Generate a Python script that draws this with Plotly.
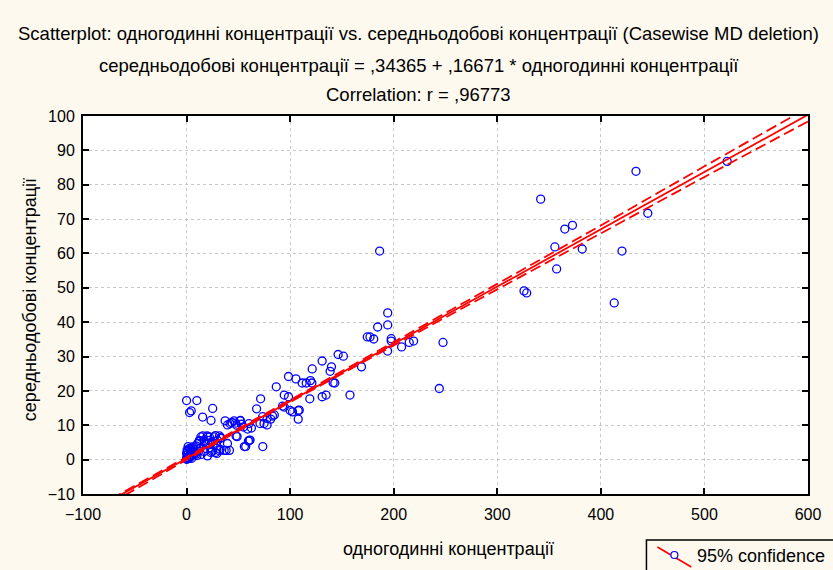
import numpy as np
import plotly.graph_objects as go

# ---- data ----
x_hour = [
    522, 433.9, 341.9, 372.6, 365.2, 445.3, 355.6, 382, 420.4, 357.3, 325.8, 328.4, 412.9,
    186.4, 194.2, 194.2, 184.5, 174.5, 177.1, 180.7, 197.6, 197.6, 194.1, 207.6, 215, 219.2,
    247.6, 244, 168.9, 157.8,
    146.3, 151.4, 130.9, 139.9, 138.6, 121.3, 98.4, 105.6, 111.6, 115.5, 119.6, 121, 141.5,
    143.1, 86.6, 119, 130.9, 134.7, 94.3, 98.4, 71.5, 67.6, 92.7, 94.3, 100, 107.8, 107.8,
    83, 84.7, 73.4, 77.7, 81.2, 74.8, 77.7, 52, 43.6, 47.2, 48.4, 54.9, 59, 62.6, 61.3, 47.8,
    102.3, 108.8, 73.6, 55.8, 60.6, 38.2, 41.4,
    0, 9.9, 2.9, 4.5, 15.5, 25.2, 23.6, 37.2, 39.5, 42, 45.9, 51.7, 52.9, 60.3, 70.9,
    59.7, 57.1, 39.5, 36.3, 48.8, 31.8, 33, 27.9, 19.9, 22.1, 15.7, 12.5, 17, 20.5, 24.4,
    24.7, 27.9, 31.8, 2.9, 6.1,
    13.8, 20.2, 21.8, 17, 12.2, 26.6, 29.8, 33, 26, 29.2, 22.5, 23.4, 17, 13.2, 9, 10.6,
    5.8, 1, 0, 0, 2.6, 7.4, 4.1, 18.6, 20.2, 29.2, 32.4,
    0, 1, 0.5, 2, 3, 1.5, 4, 6, 8, 10, 12, 14, 0.3, 1.8, 5, 3.5, 7, 9,
]
y_day = [
    86.8, 83.9, 75.8, 68.2, 67.1, 71.7, 61.9, 61.3, 60.7, 55.5, 49.1, 48.5, 45.6,
    60.7, 42.7, 39.2, 38.6, 35.7, 35.7, 35.1, 35.2, 34.5, 31.6, 32.8, 34.1, 34.5,
    34.1, 20.7, 27, 18.8,
    30.6, 30.1, 28.7, 27, 25.7, 26.4, 24.2, 23.5, 22.3, 22.3, 23, 22.3, 22.4,
    22.3, 21.2, 17.7, 18.3, 18.8, 18.8, 18.3, 17.7, 14.8, 15.6, 15.3, 14.3, 14.3, 11.8,
    12.7, 13, 12.5, 12, 11.8, 10.5, 10.1, 11.4, 10.8, 10.6, 10, 9.5, 8.9, 9.2, 5.7, 6.9,
    13.9, 14.4, 3.8, 3.8, 5.6, 2.7, 2.7,
    17.2, 17.2, 13.7, 14.2, 12.4, 14.9, 11.4, 11.3, 10.1, 10.5, 11.3, 11.3, 10.3, 10.5, 10.5,
    5.4, 3.8, 4.7, 2.7, 6.7, 6.9, 6.4, 7, 6.9, 6.6, 6.9, 5.6, 5.1, 4.7, 5.1,
    2.4, 2.1, 2.6, 3.3, 2.5,
    6.6, 6.6, 5.6, 5.6, 5.4, 6.6, 5.6, 6.2, 4.7, 4, 3.5, 2.1, 2.4, 3.3, 4, 4.7,
    3.7, 2.5, 1.8, 0.1, 1.1, 1.8, 3, 4.5, 1.1, 1.8, 3,
    0.5, 1.5, 2.8, 0.3, 1, 3.8, 0.8, 1.5, 2, 1.2, 2.5, 1.5, 0.2, 0.6, 0.4, 2.2, 3.1, 1.6,
]
INTERCEPT = 0.34365
SLOPE = 0.16671
# 95% confidence band, upper / lower values
band_x = [-100, -50, 0, 50, 100, 200, 300, 400, 500, 600]
band_upper = [-16.0, -7.6, 0.75, 9.05, 17.35, 34.2, 51.15, 68.15, 85.35, 102.4]
band_lower = [-17.4, -8.7, -0.05, 8.35, 16.75, 33.2, 49.55, 65.85, 82.25, 98.4]
x_ticks = [-100, 0, 100, 200, 300, 400, 500, 600]
y_ticks = [-10, 0, 10, 20, 30, 40, 50, 60, 70, 80, 90, 100]

title_lines = [
    "Scatterplot: одногодинні концентрації vs. середньодобові концентрації (Casewise MD deletion)",
    "середньодобові концентрації = ,34365 + ,16671 * одногодинні концентрації",
    "Correlation: r = ,96773",
]
x_title = "одногодинні концентрації"
y_title = "середньодобові концентрації"
legend_text = "95% confidence"

fit_x = [-100, 600]
fit_y = [INTERCEPT + SLOPE * v for v in fit_x]

NARROW = "Liberation Sans Narrow, Arial Narrow, Liberation Sans, Arial"
REG = "Liberation Sans, Arial"
RED = "#ff0000"

fig = go.Figure()
fig.add_trace(go.Scatter(x=x_hour, y=y_day, mode="markers",
                         marker=dict(symbol="circle-open", size=8, color="#0000ff",
                                     line=dict(width=1.3, color="#0000ff")),
                         showlegend=False))
fig.add_trace(go.Scatter(x=band_x, y=band_upper, mode="lines", line_shape="spline",
                         line=dict(color=RED, width=1.8, dash="11px,5px"), showlegend=False))
fig.add_trace(go.Scatter(x=band_x, y=band_lower, mode="lines", line_shape="spline",
                         line=dict(color=RED, width=1.8, dash="11px,5px"), showlegend=False))
fig.add_trace(go.Scatter(x=fit_x, y=fit_y, mode="lines",
                         line=dict(color=RED, width=1.8), showlegend=False))

W, H = 833, 570
L, R, T, B = 83, 810, 116, 494


def px(xp):
    return (xp - L) / (R - L)


def py(yp):
    return (B - yp) / (B - T)


axis_common = dict(showline=True, linecolor="black", linewidth=2, mirror="ticks",
                   ticks="inside", ticklen=6, tickwidth=1.5, tickcolor="black",
                   showgrid=True, gridcolor="#c8c8c8", griddash="dot", gridwidth=1,
                   zeroline=False, tickfont=dict(family=REG, size=16, color="black"))

fig.update_layout(
    width=W, height=H,
    margin=dict(l=L, r=W - R, t=T, b=H - B),
    paper_bgcolor="#fdf9ee", plot_bgcolor="white",
    showlegend=False,
    xaxis=dict(range=[-100, 600], tickvals=x_ticks, ticklabelstandoff=5, **axis_common),
    yaxis=dict(range=[-10, 100], tickvals=y_ticks, ticklabelstandoff=3, **axis_common),
)

ann = []
for text, ypix in zip(title_lines, [33, 66, 94]):
    ann.append(dict(text=text, xref="paper", yref="paper", x=px(W / 2 + 3), y=py(ypix),
                    xanchor="center", yanchor="middle", showarrow=False,
                    font=dict(family=NARROW, size=18.5, color="black")))
ann.append(dict(text=x_title, xref="paper", yref="paper", x=px(450), y=py(549),
                xanchor="center", yanchor="middle", showarrow=False,
                font=dict(family=NARROW, size=18, color="black")))
ann.append(dict(text=y_title, xref="paper", yref="paper", x=px(30), y=py(300),
                xanchor="center", yanchor="middle", showarrow=False, textangle=-90,
                font=dict(family=NARROW, size=18, color="black")))
ann.append(dict(text=legend_text, xref="paper", yref="paper", x=px(697), y=py(556),
                xanchor="left", yanchor="middle", showarrow=False,
                font=dict(family=NARROW, size=18, color="black")))
fig.update_layout(annotations=ann)

shapes = [
    dict(type="rect", xref="paper", yref="paper", x0=px(648), x1=px(845), y0=py(540), y1=py(580),
         line=dict(color="black", width=1.5), fillcolor="#fdf9ee", layer="above"),
    dict(type="line", xref="paper", yref="paper", x0=px(659), x1=px(693), y0=py(547), y1=py(567),
         line=dict(color=RED, width=1.6)),
    dict(type="circle", xref="paper", yref="paper", x0=px(672.5), x1=px(679.5), y0=py(551.5), y1=py(558.5),
         line=dict(color="#0000ff", width=1.2), fillcolor="#fdf9ee"),
]
fig.update_layout(shapes=shapes)

fig.write_html("out.html")
